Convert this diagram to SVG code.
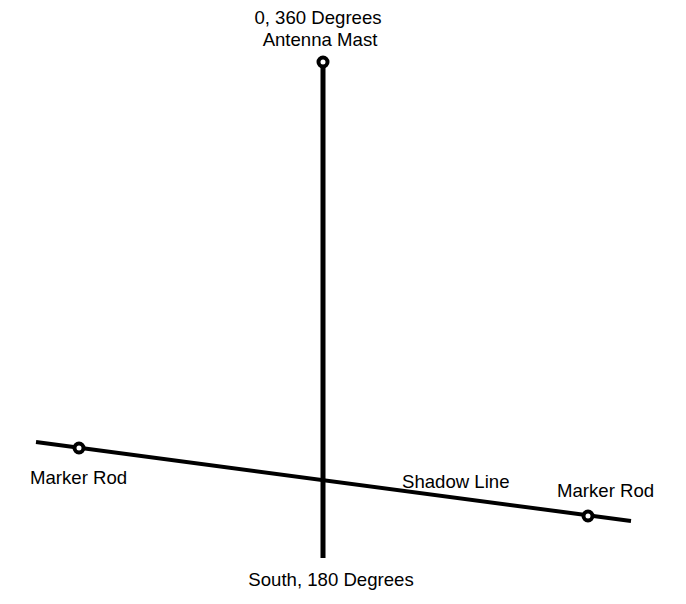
<svg xmlns="http://www.w3.org/2000/svg" width="686" height="604" viewBox="0 0 686 604">
<style>
text{font-family:"Liberation Sans",Arial,sans-serif;font-size:18.6px;fill:#000}
.ln{stroke:#000;fill:none}
.pt{fill:#fff;stroke:#000;stroke-width:4}
</style>
<rect width="686" height="604" fill="#fff"/>
<g id="connectors">
<line class="ln" x1="323" y1="62" x2="323" y2="558" stroke-width="5"/>
<line class="ln" x1="36" y1="442" x2="631" y2="521" stroke-width="4"/>
</g>
<g id="mast">
<circle class="pt" cx="323" cy="62" r="4.5"/>
<text x="318" y="24" text-anchor="middle">0, 360 Degrees</text>
<text x="320" y="46" text-anchor="middle">Antenna Mast</text>
</g>
<g id="rod-left">
<circle class="pt" cx="79" cy="448" r="4.5"/>
<text x="30" y="484">Marker Rod</text>
</g>
<g id="rod-right">
<circle class="pt" cx="588" cy="516" r="4.5"/>
<text x="557" y="497">Marker Rod</text>
</g>
<g id="shadow-label">
<text x="402" y="488">Shadow Line</text>
</g>
<g id="south">
<text x="331" y="586" text-anchor="middle">South, 180 Degrees</text>
</g>
</svg>
